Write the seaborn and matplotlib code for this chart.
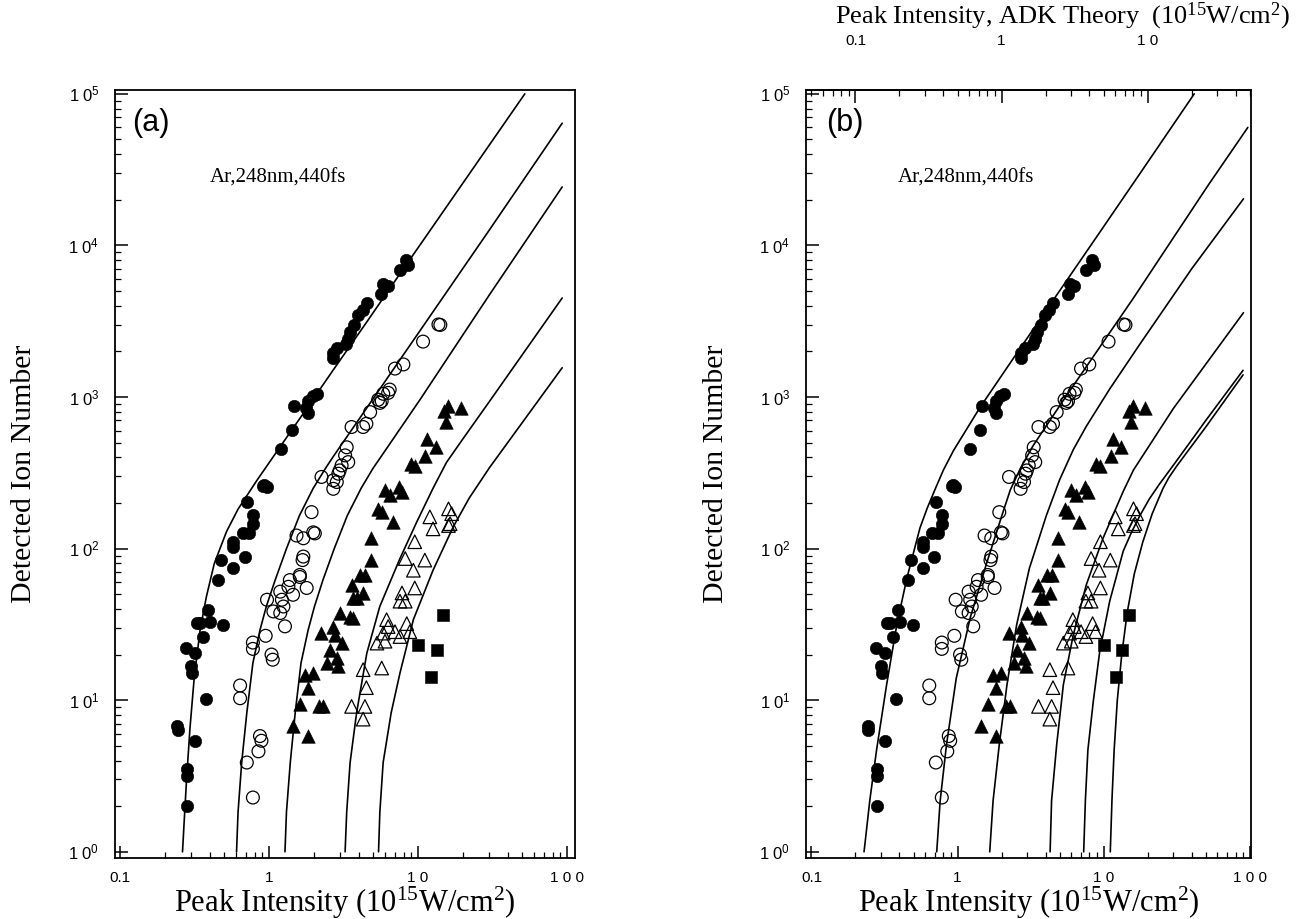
import numpy as np
import matplotlib
matplotlib.use("Agg")
import matplotlib.pyplot as plt
from matplotlib.ticker import LogLocator, NullFormatter
import seaborn as sns

# ---------------- measured ion yields (same data in both panels) ----------------
ar1_x = [8.34, 8.6, 7.57, 5.85, 6.24, 5.67, 4.52, 4.24, 3.98, 3.73, 3.50, 3.39, 3.28,
         2.70, 2.88, 2.70, 2.09, 1.96, 1.84, 1.78, 1.84, 1.47, 1.42, 1.21, 0.933, 0.966,
         0.91, 0.71, 0.78, 0.78, 0.67, 0.74, 0.576, 0.576, 0.69, 0.576, 0.48, 0.457,
         0.39, 0.402, 0.345, 0.327, 0.494, 0.36, 0.277, 0.318, 0.298, 0.303, 0.378,
         0.243, 0.245, 0.318, 0.283, 0.283, 0.283]
ar1_y = [8000, 7430, 6910, 5560, 5360, 4810, 4160, 3730, 3470, 3000, 2690, 2410, 2250,
         1940, 2090, 1800, 1050, 1010, 940, 842, 783, 874, 608, 454, 264, 254,
         260, 203, 166, 145, 126, 126, 110, 102, 88.6, 74, 84, 62,
         39.5, 33, 32.3, 32.3, 31.4, 26.3, 22, 20.4, 16.7, 15.1, 10.2,
         6.77, 6.4, 5.4, 3.5, 3.17, 2.0]

ar2_x = [13.7, 14.1, 10.8, 7.97, 7.0, 6.45, 6.3, 5.7, 5.84, 5.55, 5.4, 4.77, 4.5, 4.28,
         3.58, 3.4, 3.32, 3.24, 3.07, 2.98, 2.92, 2.85, 2.7, 2.25, 2.7, 1.93, 1.98, 2.03,
         1.53, 1.70, 1.70, 1.68, 1.35, 1.38, 1.45, 1.61, 1.61, 1.79, 0.97, 1.07, 1.19,
         1.22, 1.25, 1.19, 1.28, 0.95, 0.78, 0.78, 1.04, 1.06, 0.64, 0.64, 0.71, 0.78,
         0.85, 0.87, 0.89]
ar2_y = [3010, 2990, 2320, 1640, 1540, 1120, 1065, 940, 1050, 915, 960, 795, 666, 634,
         634, 372, 466, 412, 354, 328, 312, 275, 248, 297, 282, 174, 128, 126,
         122, 117, 88.6, 84, 56, 62, 49.6, 65, 67, 55, 46, 38.5, 52,
         46, 41.5, 37.6, 30.7, 26.6, 24, 21.8, 20, 18.5, 12.5, 10.3, 3.88, 2.28,
         4.6, 5.8, 5.4]

ar3_x = [15.9, 14.9, 19.3, 15.5, 11.5, 13.1, 11.2, 9.5, 8.9, 7.4, 7.8, 6.0, 6.45, 5.4,
         5.7, 6.8, 4.87, 4.87, 4.1, 4.4, 3.58, 4.28, 3.87, 3.68, 2.98, 3.5, 3.68, 2.25,
         2.7, 2.78, 3.07, 2.56, 2.85, 2.92, 2.44, 1.74, 1.98, 1.84, 1.61, 2.16, 2.3,
         1.45, 1.84]
ar3_y = [870, 810, 840, 680, 525, 470, 410, 350, 360, 255, 237, 242, 225, 183,
         174, 150, 117, 84, 67, 67, 57.5, 51, 47, 47, 37.5, 35.6, 34.6, 27.7,
         30.6, 27, 23.8, 21.5, 19, 16.7, 17.6, 14.7, 15.1, 12, 9.4, 9.1, 9.1,
         6.75, 5.8]

ar4_x = [16.0, 16.8, 16.4, 16.0, 12.0, 12.6, 9.5, 8.2, 11.1, 9.3, 9.5, 7.56, 8.2, 7.8,
         6.15, 6.3, 8.4, 7.0, 7.56, 8.8, 5.84, 5.3, 6.0, 4.28, 5.7, 4.5, 3.58, 4.4, 4.28]
ar4_y = [183, 170, 146, 142, 162, 135, 111, 86, 84, 72, 55, 45, 45, 51,
         34, 30.6, 32, 28.3, 26.3, 28.3, 27.7, 23.8, 24.5, 15.9, 16.3, 12.1, 9.1, 9.1, 7.5]

ar5_x = [10.05, 13.3, 12.2, 14.8]
ar5_y = [23.2, 21.5, 14.2, 36.6]

# ---------------- calculated yields, panel (a) ----------------
a1_x = [0.263, 0.27, 0.28, 0.295, 0.315, 0.345, 0.38, 0.43, 0.52, 0.62, 0.83, 1.18, 1.7,
        2.7, 4.5, 7.56, 10.0, 52.0]
a1_y = [1.0, 1.6, 3.0, 6.5, 14, 29, 48, 80, 130, 182, 282, 465, 780,
        1510, 3100, 6500, 9650, 1.0e5]
a2_x = [0.606, 0.62, 0.656, 0.71, 0.78, 0.87, 0.96, 1.1, 1.31, 1.6, 1.98, 2.4, 2.7, 4.5,
        9.8, 30, 92.6]
a2_y = [1.0, 1.82, 3.88, 8.26, 17.6, 29, 41.6, 62, 100, 165, 250, 340, 405, 840,
        2550, 1.26e4, 6.4e4]
a3_x = [1.28, 1.31, 1.39, 1.5, 1.64, 1.83, 2.02, 2.3, 2.74, 3.35, 4.15, 5.0, 5.7, 10.3,
        30, 92.6]
a3_y = [1.0, 1.83, 3.9, 8.3, 17.6, 29, 41.6, 62, 100, 165, 250, 340, 410, 960,
        4700, 2.43e4]
a4_x = [3.24, 3.32, 3.50, 3.87, 4.53, 5.54, 7.56, 9.8, 12.6, 15.5, 20, 30, 92.6]
a4_y = [1.0, 1.82, 3.88, 8.26, 20.4, 41.6, 86, 150, 250, 370, 530, 930, 4500]
a5_x = [5.43, 5.54, 5.83, 6.6, 7.56, 9.3, 12.6, 17.2, 22, 30, 92.6]
a5_y = [1.0, 1.82, 3.88, 8.26, 15.1, 34, 72, 139, 215, 340, 1560]

# ---------------- calculated yields, panel (b) ----------------
b1_x = [0.229, 0.251, 0.279, 0.327, 0.384, 0.45, 0.553, 0.62, 0.7, 0.8, 0.94, 1.42, 2.4,
        3.65, 5.7, 9.4, 17.3, 41.7]
b1_y = [1.0, 2.2, 4.7, 12.7, 31.6, 64, 137, 185, 245, 330, 445, 850, 1790,
        3230, 6040, 12200, 28800, 1.0e5]
b2_x = [0.72, 0.76, 0.84, 0.98, 1.22, 1.58, 2.05, 2.3, 2.7, 3.3, 5.6, 15.9, 52, 97]
b2_y = [1.0, 2.17, 5.1, 14, 34.9, 80, 175, 245, 340, 480, 1030, 4460, 2.5e4, 6.0e4]
b3_x = [1.66, 1.75, 1.93, 2.18, 2.54, 3.1, 4.05, 5.0, 6.2, 7.6, 11, 17.8, 40, 90.6]
b3_y = [1.0, 2.17, 5.1, 12.7, 31.6, 74, 165, 285, 450, 640, 1130, 2250, 7000, 2.03e4]
b4_x = [4.3, 4.4, 4.77, 5.3, 6.2, 7.6, 9.9, 13.6, 16, 30, 90.6]
b4_y = [1.0, 2.17, 5.1, 12.7, 27, 57.6, 117, 238, 330, 840, 3600]
b5_x = [7.3, 7.5, 7.8, 8.5, 9.4, 11, 13.6, 15.5, 17.7, 20.5, 24, 31.6, 50, 90]
b5_y = [1.0, 2.2, 4.7, 9.9, 21, 45, 96, 128, 165, 212, 265, 380, 700, 1500]
b6_x = [11.1, 11.4, 11.8, 12.4, 13.3, 14.5, 16.2, 18.5, 21.5, 25.5, 28, 31.6, 50, 90]
b6_y = [1.0, 2.2, 4.7, 10, 20, 38, 68, 110, 170, 250, 295, 350, 634, 1400]

# ---------------- axes annotations ----------------
x_ticks = [0.1, 1, 10, 100]
x_tick_labels = ["0.1", "1", "1 0", "1 0 0"]
y_ticks = [1, 10, 100, 1e3, 1e4, 1e5]
y_tick_labels = [r"$\mathsf{1\ 0^{%d}}$" % k for k in range(6)]
top_ticks = [0.1, 1, 10]
top_tick_labels = ["0.1", "1", "1 0"]
adk_factor = 0.5   # ADK intensity relative to the experimental scale

x_label = r"Peak Intensity (10$^{15}$W/cm$^{2}$)"
y_label = "Detected Ion Number"
top_label = r"Peak Intensity, ADK Theory  (10$^{15}$W/cm$^{2}$)"
condition = "Ar,248nm,440fs"

sns.set_theme(style="ticks")
plt.rcParams.update({
    "font.family": ["Liberation Serif", "DejaVu Serif"],
    "mathtext.fontset": "custom",
    "mathtext.rm": "Liberation Serif",
    "mathtext.sf": "Liberation Sans",
    "mathtext.it": "Liberation Serif:italic",
    "mathtext.bf": "Liberation Serif:bold",
    "axes.linewidth": 1.3,
    "axes.edgecolor": "black",
    "xtick.color": "black",
    "ytick.color": "black",
})

W, H = 1299, 919
fig = plt.figure(figsize=(W / 100, H / 100), dpi=100)
fig.patch.set_facecolor("white")
ax_a = fig.add_axes([114.5 / W, 1 - 858 / H, 460 / W, 768 / H])
ax_b = fig.add_axes([805.5 / W, 1 - 858 / H, 445.5 / W, 768 / H])

YLIM = (0.91, 1.06e5)


def style_axes(ax, xlim):
    ax.set_xscale("log")
    ax.set_yscale("log")
    ax.set_xlim(*xlim)
    ax.set_ylim(*YLIM)
    ax.set_facecolor("white")
    ax.set_xticks(x_ticks, labels=x_tick_labels)
    ax.set_yticks(y_ticks, labels=y_tick_labels)
    ax.xaxis.set_minor_locator(LogLocator(base=10, subs=np.arange(2, 10), numticks=30))
    ax.yaxis.set_minor_locator(LogLocator(base=10, subs=np.arange(2, 10), numticks=30))
    ax.xaxis.set_minor_formatter(NullFormatter())
    ax.yaxis.set_minor_formatter(NullFormatter())
    ax.tick_params(which="major", direction="in", length=9, width=1.1,
                   top=False, right=False)
    ax.tick_params(which="minor", direction="in", length=4.5, width=0.9,
                   top=False, right=False)
    ax.tick_params(axis="x", which="major", pad=9, labelsize=11)
    ax.tick_params(axis="y", which="major", pad=11, labelsize=12)
    for lab in ax.get_xticklabels():
        lab.set_fontfamily("Liberation Sans")
    for sp in ax.spines.values():
        sp.set_visible(True)
        sp.set_linewidth(1.3)
        sp.set_color("black")
    ax.set_xlabel(x_label, fontsize=22, color="black")
    ax.xaxis.set_label_coords(0.5, -0.058)
    ax.xaxis.label.set_va("center")
    ax.set_ylabel(y_label, fontsize=21.5, color="black", va="center")


def draw_data(ax):
    mk = dict(ax=ax, legend=False, zorder=3)
    sns.scatterplot(x=ar1_x, y=ar1_y, marker="o", s=80, color="black",
                    edgecolor="black", linewidth=0.4, **mk)
    sns.scatterplot(x=ar2_x, y=ar2_y, marker="o", s=85, color="none",
                    edgecolor="black", linewidth=0.9, **mk)
    sns.scatterplot(x=ar3_x, y=ar3_y, marker="^", s=95, color="black",
                    edgecolor="black", linewidth=0.4, **mk)
    sns.scatterplot(x=ar4_x, y=ar4_y, marker="^", s=95, color="none",
                    edgecolor="black", linewidth=0.9, **mk)
    sns.scatterplot(x=ar5_x, y=ar5_y, marker="s", s=75, color="black",
                    edgecolor="black", linewidth=0.4, **mk)


def draw_curves(ax, curves):
    for cx, cy in curves:
        sns.lineplot(x=cx, y=cy, ax=ax, color="black", linewidth=1.2,
                     sort=False, estimator=None, legend=False, zorder=2)


# panel (a)
style_axes(ax_a, (0.092, 112))
draw_curves(ax_a, [(a1_x, a1_y), (a2_x, a2_y), (a3_x, a3_y), (a4_x, a4_y), (a5_x, a5_y)])
draw_data(ax_a)
ax_a.yaxis.set_label_coords(-0.197, 0.5)
ax_a.text(0.08, 0.957, "(a)", transform=ax_a.transAxes, fontsize=22,
          fontfamily="Liberation Sans", ha="center", va="center", color="black")
ax_a.text(0.355, 0.885, condition, transform=ax_a.transAxes, fontsize=15,
          ha="center", va="center", color="black")

# panel (b)
style_axes(ax_b, (0.091, 102))
draw_curves(ax_b, [(b1_x, b1_y), (b2_x, b2_y), (b3_x, b3_y), (b4_x, b4_y),
                   (b5_x, b5_y), (b6_x, b6_y)])
draw_data(ax_b)
ax_b.yaxis.set_label_coords(-0.201, 0.5)
ax_b.text(0.089, 0.957, "(b)", transform=ax_b.transAxes, fontsize=22,
          fontfamily="Liberation Sans", ha="center", va="center", color="black")
ax_b.text(0.36, 0.885, condition, transform=ax_b.transAxes, fontsize=15,
          ha="center", va="center", color="black")

# ADK intensity scale along the top of panel (b)
sec = ax_b.secondary_xaxis("top", functions=(lambda v: v * adk_factor,
                                             lambda v: v / adk_factor))
sec.set_xticks(top_ticks, labels=top_tick_labels)
sec.xaxis.set_minor_locator(LogLocator(base=10, subs=np.arange(2, 10), numticks=30))
sec.xaxis.set_minor_formatter(NullFormatter())
sec.tick_params(which="major", direction="in", length=9, width=1.1, pad=30, labelsize=11)
sec.tick_params(which="minor", direction="in", length=4.5, width=0.9)
for lab in sec.get_xticklabels():
    lab.set_fontfamily("Liberation Sans")
sec.spines["top"].set_linewidth(1.3)
fig.text(1062 / W, 1 - 16 / H, top_label, fontsize=19, ha="center", va="center",
         color="black")

fig.savefig("out.png", dpi=100, facecolor="white")
